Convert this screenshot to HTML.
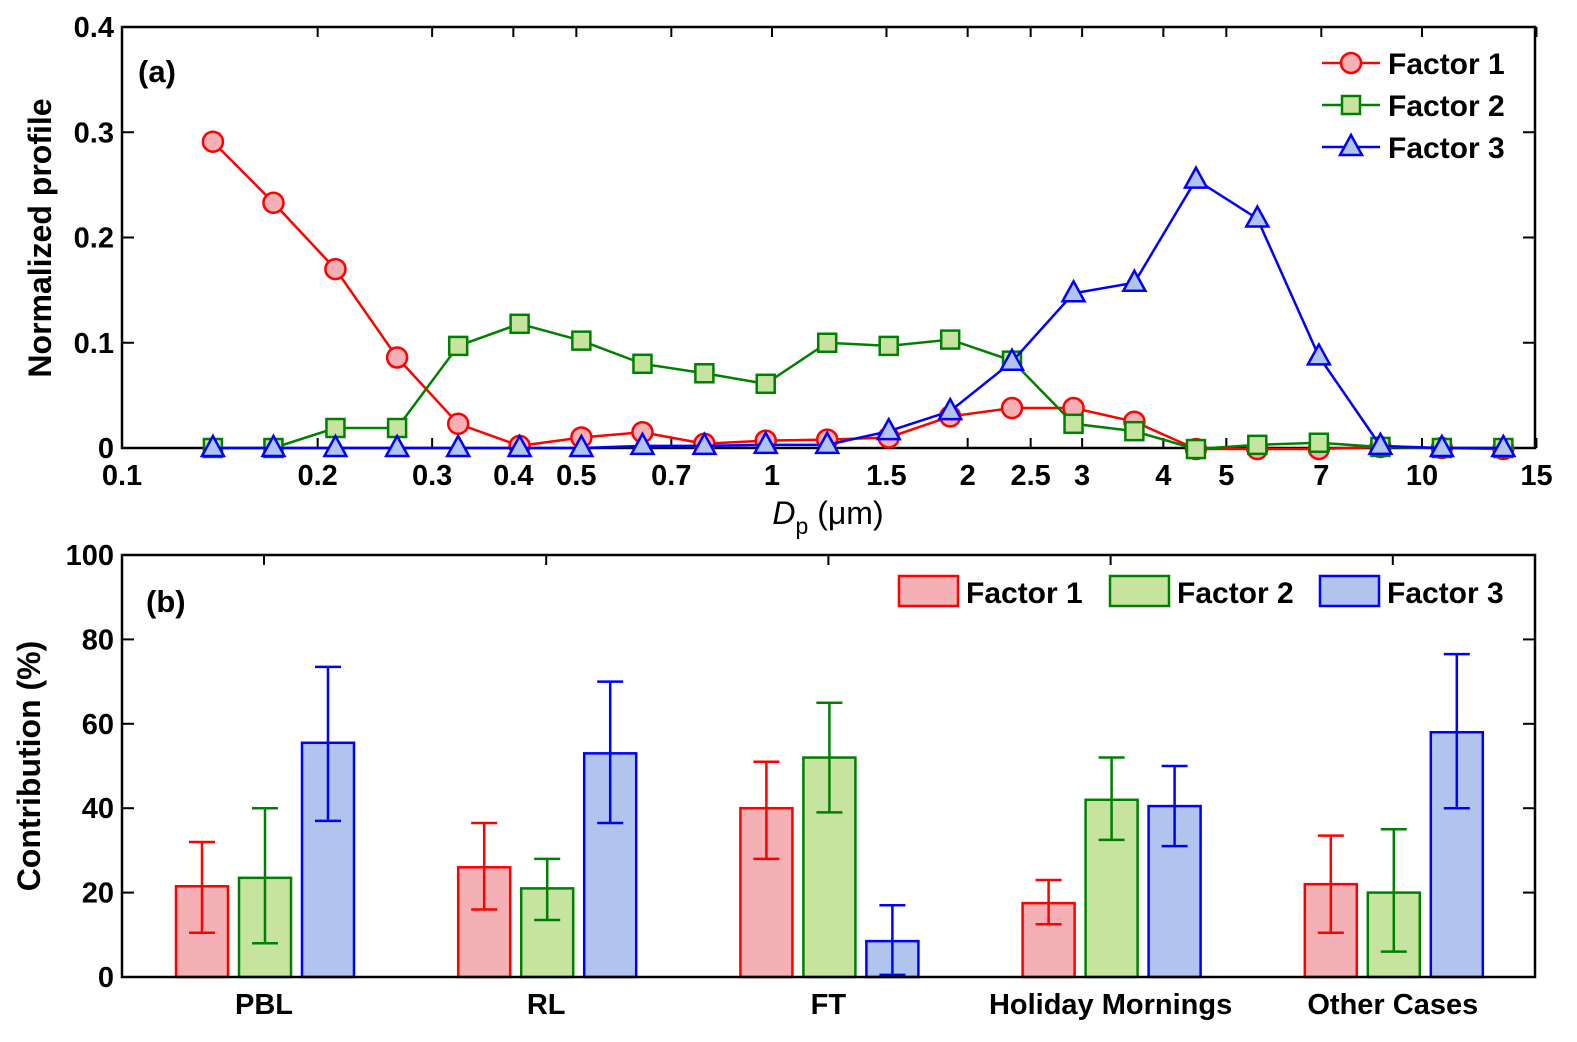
<!DOCTYPE html>
<html><head><meta charset="utf-8"><style>
html,body{margin:0;padding:0;background:#fff;}
svg{display:block;font-family:"Liberation Sans",Arial,sans-serif;}
</style></head><body>
<svg id="fig" width="1577" height="1042" viewBox="0 0 1577 1042" xmlns="http://www.w3.org/2000/svg"></svg>
<script>
// ---------- data: panel (a) ----------
const diameters = [0.138,0.171,0.213,0.265,0.329,0.409,0.509,0.632,0.787,0.978,1.216,1.512,1.88,2.34,2.91,3.61,4.49,5.58,6.94,8.63,10.73,13.34];
const factor1Profile = [0.291,0.233,0.170,0.086,0.023,0.002,0.010,0.015,0.004,0.007,0.008,0.010,0.030,0.038,0.038,0.025,-0.001,-0.001,-0.001,0.001,0.000,-0.001];
const factor2Profile = [0.000,0.000,0.019,0.019,0.097,0.118,0.102,0.080,0.071,0.061,0.100,0.097,0.103,0.083,0.023,0.016,-0.001,0.003,0.005,0.001,0.000,0.000];
const factor3Profile = [0.000,0.000,0.000,0.000,0.000,0.000,0.000,0.002,0.002,0.003,0.003,0.016,0.035,0.082,0.147,0.157,0.255,0.218,0.087,0.002,0.000,0.000];
const xTickValues = [0.1,0.2,0.3,0.4,0.5,0.7,1,1.5,2,2.5,3,4,5,7,10,15];
const xTickLabels = ["0.1","0.2","0.3","0.4","0.5","0.7","1","1.5","2","2.5","3","4","5","7","10","15"];
const yTickValuesA = [0,0.1,0.2,0.3,0.4];
const yTickLabelsA = ["0","0.1","0.2","0.3","0.4"];
// ---------- data: panel (b) ----------
const categories = ["PBL","RL","FT","Holiday Mornings","Other Cases"];
const factor1Contrib = [21.5,26,40,17.5,22];
const factor1Low = [10.5,16,28,12.5,10.5];
const factor1High = [32,36.5,51,23,33.5];
const factor2Contrib = [23.5,21,52,42,20];
const factor2Low = [8,13.5,39,32.5,6];
const factor2High = [40,28,65,52,35];
const factor3Contrib = [55.5,53,8.5,40.5,58];
const factor3Low = [37,36.5,0.5,31,40];
const factor3High = [73.5,70,17,50,76.5];
const yTickValuesB = [0,20,40,60,80,100];
const yTickLabelsB = ["0","20","40","60","80","100"];

const NS="http://www.w3.org/2000/svg";
const svg=document.getElementById('fig');
function mk(tag,attrs,parent){const e=document.createElementNS(NS,tag);for(const k in attrs)e.setAttribute(k,attrs[k]);(parent||svg).appendChild(e);return e;}
const FS=29;

// ---------- panel (a) ----------
const L=122,R=1535;
const aTop=27,aBot=448;
const xA=v=>L+(Math.log10(v)+1)*650;
const yA=v=>aBot-v*(aBot-aTop)/0.4;
const gA=mk('g',{});


xTickValues.forEach((v,i)=>{
  const x=xA(v);
  const t1=mk('line',{x1:x,x2:x,y1:aBot,y2:aBot-10,stroke:'#000','stroke-width':2},gA);
  
  mk('line',{x1:x,x2:x,y1:aTop,y2:aTop+10,stroke:'#000','stroke-width':2},gA);
  const t=mk('text',{x:x,y:aBot+37,'font-size':FS,'font-weight':'bold','text-anchor':'middle'},gA);
  t.textContent=xTickLabels[i];
  
});
yTickValuesA.forEach((v,i)=>{
  const y=yA(v);
  mk('line',{x1:L,x2:L+12,y1:y,y2:y,stroke:'#000','stroke-width':2},gA);
  mk('line',{x1:R,x2:R-12,y1:y,y2:y,stroke:'#000','stroke-width':2},gA);
  const t=mk('text',{x:L-8,y:y+10,'font-size':FS,'font-weight':'bold','text-anchor':'end'},gA);
  t.textContent=yTickLabelsA[i];
  
});
const frA=mk('rect',{x:L,y:aTop,width:R-L,height:aBot-aTop,fill:'none',stroke:'#000','stroke-width':2.5},gA);


function marker(g,type,x,y,fill,stroke){
  if(type==='circle')return mk('circle',{cx:x,cy:y,r:10,fill:fill,stroke:stroke,'stroke-width':2.5},g);
  if(type==='square')return mk('rect',{x:x-9,y:y-9,width:18,height:18,fill:fill,stroke:stroke,'stroke-width':2.5},g);
  return mk('polygon',{points:`${x},${y-12} ${x+11},${y+8} ${x-11},${y+8}`,fill:fill,stroke:stroke,'stroke-width':2.5},g);
}
const seriesA=[
  {vals:factor1Profile,c:'#ff0000',f:'#f5b0b5',m:'circle',n:'factor1'},
  {vals:factor2Profile,c:'#008000',f:'#c6e3a0',m:'square',n:'factor2'},
  {vals:factor3Profile,c:'#0000ff',f:'#b0c4ee',m:'triangle',n:'factor3'}
];
seriesA.forEach(s=>{
  const g=mk('g',{},gA);
  
  const pts=s.vals.map((v,i)=>xA(diameters[i])+','+yA(v)).join(' ');
  const pl=mk('polyline',{points:pts,fill:'none',stroke:s.c,'stroke-width':2.5},g);
  
  s.vals.forEach((v,i)=>{
    const m=marker(g,s.m,xA(diameters[i]),yA(v),s.f,s.c);
    
  });
});
const legA=mk('g',{},gA);

seriesA.forEach((s,i)=>{
  const y=63+i*42;
  const e=mk('g',{},legA);
  
  mk('line',{x1:1322,x2:1380,y1:y,y2:y,stroke:s.c,'stroke-width':2.5},e);
  marker(e,s.m,1351,y,s.f,s.c);
  const t=mk('text',{x:1388,y:y+11,'font-size':30,'font-weight':'bold'},e);t.textContent='Factor '+(i+1);
});
const pa=mk('text',{x:138,y:82,'font-size':31,'font-weight':'bold'},gA);pa.textContent='(a)';

const xt=mk('text',{x:828,y:524,'font-size':32,'text-anchor':'middle'},gA);

xt.innerHTML='<tspan font-style="italic">D</tspan><tspan font-size="23" dy="10">p</tspan><tspan dy="-10"> (μm)</tspan>';
const yt=mk('text',{x:0,y:0,'font-size':32,'font-weight':'bold','text-anchor':'middle',transform:'translate(51,238) rotate(-90)'},gA);
yt.textContent='Normalized profile';

// ---------- panel (b) ----------
const bTop=555,bBot=977;
const yB=v=>bBot-v*(bBot-bTop)/100;
const xB=i=>264+i*282.2;
const gB=mk('g',{});

yTickValuesB.forEach((v,i)=>{
  const y=yB(v);
  mk('line',{x1:L,x2:L+12,y1:y,y2:y,stroke:'#000','stroke-width':2},gB);
  mk('line',{x1:R,x2:R-12,y1:y,y2:y,stroke:'#000','stroke-width':2},gB);
  const t=mk('text',{x:L-8,y:y+10,'font-size':FS,'font-weight':'bold','text-anchor':'end'},gB);
  t.textContent=yTickLabelsB[i];
  
});
categories.forEach((c,i)=>{
  const x=xB(i);
  mk('line',{x1:x,x2:x,y1:bBot,y2:bBot-10,stroke:'#000','stroke-width':2},gB);
  mk('line',{x1:x,x2:x,y1:bTop,y2:bTop+10,stroke:'#000','stroke-width':2},gB);
  const t=mk('text',{x:x,y:bBot+37,'font-size':FS,'font-weight':'bold','text-anchor':'middle'},gB);
  t.textContent=c;
});
const seriesB=[
  {v:factor1Contrib,lo:factor1Low,hi:factor1High,c:'#ff0000',f:'#f5b0b5',off:-62,n:'factor1'},
  {v:factor2Contrib,lo:factor2Low,hi:factor2High,c:'#008000',f:'#c6e3a0',off:1,n:'factor2'},
  {v:factor3Contrib,lo:factor3Low,hi:factor3High,c:'#0000ff',f:'#b0c4ee',off:64,n:'factor3'}
];
seriesB.forEach(s=>{
  s.v.forEach((v,i)=>{
    const cx=xB(i)+s.off;
    const b=mk('rect',{x:cx-26,y:yB(v),width:52,height:bBot-yB(v),fill:s.f,stroke:s.c,'stroke-width':2.5},gB);
    
    const e=mk('g',{},gB);
    
    mk('line',{x1:cx,x2:cx,y1:yB(s.lo[i]),y2:yB(s.hi[i]),stroke:s.c,'stroke-width':2.5},e);
    mk('line',{x1:cx-13,x2:cx+13,y1:yB(s.lo[i]),y2:yB(s.lo[i]),stroke:s.c,'stroke-width':2.5},e);
    mk('line',{x1:cx-13,x2:cx+13,y1:yB(s.hi[i]),y2:yB(s.hi[i]),stroke:s.c,'stroke-width':2.5},e);
  });
});
const frB=mk('rect',{x:L,y:bTop,width:R-L,height:bBot-bTop,fill:'none',stroke:'#000','stroke-width':2.5},gB);

const legB=mk('g',{},gB);

[[899,0],[1110,1],[1320,2]].forEach(([x,i])=>{
  const s=seriesB[i];
  const e=mk('g',{},legB);
  
  mk('rect',{x:x,y:576,width:59,height:30,fill:s.f,stroke:s.c,'stroke-width':2.5},e);
  const t=mk('text',{x:x+67,y:603,'font-size':30,'font-weight':'bold'},e);t.textContent='Factor '+(i+1);
});
const pb=mk('text',{x:146,y:612,'font-size':31,'font-weight':'bold'},gB);pb.textContent='(b)';

const ytb=mk('text',{x:0,y:0,'font-size':32,'font-weight':'bold','text-anchor':'middle',transform:'translate(40,766) rotate(-90)'},gB);
ytb.textContent='Contribution (%)';
</script>
</body></html>
